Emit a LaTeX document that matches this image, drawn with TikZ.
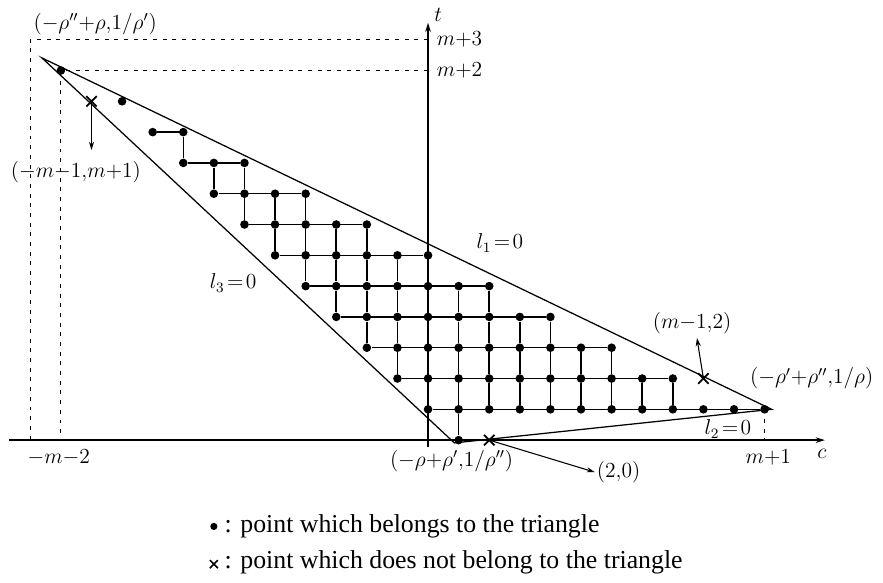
\documentclass[tikz,border=0pt]{standalone}
\usepackage[no-math]{fontspec}
\newfontfamily\legendfont{Liberation Serif}
\usetikzlibrary{positioning, arrows.meta, shapes.misc}

\begin{document}
\begin{tikzpicture}[x=0.6cm, y=0.604cm,
    dot/.style={circle, fill, inner sep=0pt, minimum size=4.8pt},
    miss/.style={cross out, draw, line width=1pt, inner sep=0pt, minimum size=4.8pt},
    mesh/.style={line width=0.85pt},
    tri/.style={line width=0.7pt},
    axisline/.style={line width=0.8pt, -{Stealth[length=1.8mm, width=1.1mm]}},
    guide/.style={line width=0.6pt, dash pattern=on 2.2pt off 3.2pt},
    arr/.style={line width=0.6pt, -{Stealth[length=1.6mm, width=1mm]}},
    lab/.style={font=\fontsize{12}{14}\selectfont, inner sep=1pt},
    legtext/.style={font=\legendfont\fontsize{14.4}{17}\selectfont, anchor=base west, inner sep=0pt}]
    \useasboundingbox (-13.99,-4.61) rectangle (14.87,14.29);

    % corners of the triangle and helper points
    \coordinate (O) at (0,0);
    \coordinate (A) at (-12.62,12.41);
    \coordinate (B) at (11.23,1.0);
    \coordinate (C) at (0.86,-0.09);
    \coordinate (sq) at (-13,13);
    \coordinate (sp) at (-12,12);
    \coordinate (sr) at (11,1);
    \coordinate (cl) at (-13.68,0);
    \coordinate (cr) at (12.97,0);
    \coordinate (tb) at (0,-0.23);
    \coordinate (tt) at (0,13.55);

    % dashed guides
    \draw[guide] (sq -| O) -- (sq) -- (sq |- O);
    \draw[guide] (sp -| O) -- (sp) -- (sp |- O);
    \draw[guide] (sr) -- (sr |- O);

    % axes
    \draw[axisline] (cl) -- (cr);
    \draw[axisline] (tb) -- (tt);
    \node[lab] (tlab) at (0.33,13.8) {$t$};
    \node[lab] (clab) at (12.87,-0.45) {$c$};
    \node[lab, anchor=west] (m3) at (0.22,13) {$m{+}3$};
    \node[lab, anchor=west] (m2) at (0.22,12) {$m{+}2$};
    \node[lab] (lmm) at (-12.07,-0.56) {$-m{-}2$};
    \node[lab] (lm1) at (11.12,-0.55) {$m{+}1$};

    % triangle
    \draw[tri] (A) -- (B) -- (C) -- cycle;
    \node[lab] (l1) at (2.35,6.4) {$l_1\!=\!0$};
    \node[lab] (l2) at (9.8,0.36) {$l_2\!=\!0$};
    \node[lab] (l3) at (-6.37,5.1) {$l_3\!=\!0$};
    \node[lab] (lA) at (-10.88,13.5) {$(-\rho''{+}\rho{,}1/\rho')$};
    \node[lab] (lB) at (12.54,2.0) {$(-\rho'{+}\rho''{,}1/\rho)$};
    \node[lab] (lC) at (0.77,-0.68) {$(-\rho{+}\rho'{,}1/\rho'')$};

    % lattice points
    \foreach \row/\first/\last in {12/-12/-12, 11/-10/-10, 10/-9/-8, 9/-8/-6,
        8/-7/-4, 7/-6/-2, 6/-5/0, 5/-4/2, 4/-3/4, 3/-2/6, 2/-1/8, 1/0/11, 0/1/1}
      \foreach \col in {\first,...,\last}
        \node[dot] (p\col_\row) at (\col,\row) {};
    \foreach \row/\first/\last in {10/-9/-8, 9/-8/-6, 8/-7/-4, 7/-6/-2,
        6/-5/0, 5/-4/2, 4/-3/4, 3/-2/6, 2/-1/8, 1/0/11}
      \draw[mesh] (p\first_\row) -- (p\last_\row);
    \foreach \row/\below/\first/\last in {10/9/-8/-8, 9/8/-7/-6, 8/7/-6/-4,
        7/6/-5/-2, 6/5/-4/0, 5/4/-3/2, 4/3/-2/4, 3/2/-1/6, 2/1/0/8, 1/0/1/1}
      \foreach \col in {\first,...,\last}
        \draw[mesh] (p\col_\row) -- (p\col_\below);

    % points outside
    \node[miss] (xa) at (-11,11) {};
    \node[miss] (xb) at (9,2) {};
    \node[miss] (xc) at (2,0) {};
    \node[lab] (la) at (-11.51,8.7) {$(-m{-}1{,}m{+}1)$};
    \node[lab] (lb) at (8.63,3.8) {$(m{-}1{,}2)$};
    \node[lab, anchor=west] (lc) at (5.45,-1.04) {$(2{,}0)$};
    \coordinate (xatip) at (-11,9.42);
    \coordinate (xbtip) at (8.79,3.31);
    \draw[arr] (xa.center) -- (xatip);
    \draw[arr] (xb.center) -- (xbtip);
    \draw[arr] (xc.center) -- (lc.west);

    % legend
    \node[legtext] (leg1) at (-6.66,-3.0) {: point which belongs to the triangle};
    \node[legtext] (leg2) at (-6.66,-4.18) {: point which does not belong to the triangle};
    \node[dot, minimum size=4pt] (legdot) at ([xshift=-5.8pt, yshift=3.4pt]leg1.base west) {};
    \node[miss, minimum size=3.6pt, line width=0.9pt] (legx) at ([xshift=-5.8pt, yshift=2.6pt]leg2.base west) {};
  \end{tikzpicture}
\end{document}
